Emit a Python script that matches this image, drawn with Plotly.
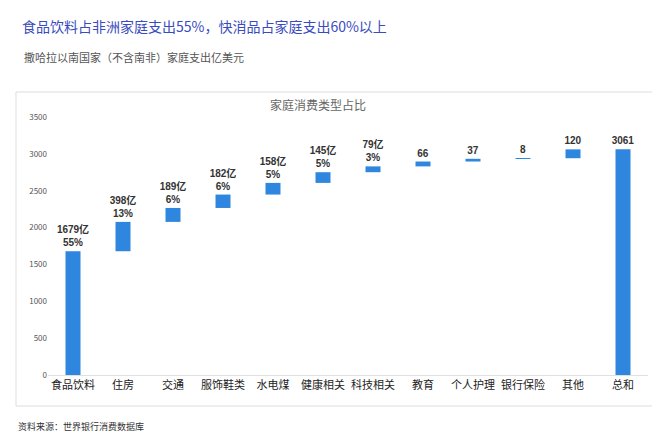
import plotly.graph_objects as go

categories = ["食品饮料", "住房", "交通", "服饰鞋类", "水电煤", "健康相关", "科技相关", "教育", "个人护理", "银行保险", "其他", "总和"]
values = [1679, 398, 189, 182, 158, 145, 79, 66, 37, 8, 120, 3061]
labels = ["1679亿<br>55%", "398亿<br>13%", "189亿<br>6%", "182亿<br>6%", "158亿<br>5%", "145亿<br>5%",
          "79亿<br>3%", "66", "37", "8", "120", "3061"]
measures = ["relative"] * 11 + ["total"]

W, H = 660, 432
L, R, T, B = 40, 20, 109, 65
pw, ph = W - L - R, H - T - B
def px(x): return (x - L) / pw
def py(y): return (H - B - y) / ph

fig = go.Figure(go.Waterfall(
    x=categories, y=values, measure=measures,
    text=labels, textposition="outside", texttemplate="<b>%{text}</b>",
    textfont=dict(size=10, color="#333", family="Liberation Sans, Noto Sans CJK SC"),
    constraintext="none",
    increasing=dict(marker=dict(color="#2f86de")),
    totals=dict(marker=dict(color="#2f86de")),
    connector=dict(visible=False), width=0.3, cliponaxis=False,
))
font = "Noto Sans CJK SC"
fig.update_layout(
    width=W, height=H, margin=dict(l=L, r=R, t=T, b=B),
    paper_bgcolor="white", plot_bgcolor="white", showlegend=False,
    font=dict(family=font),
    uniformtext=dict(mode="show", minsize=10),
    xaxis=dict(tickfont=dict(size=11, color="#222"), tickangle=0, showline=True,
               linecolor="#e0e0e0", ticks=""),
    yaxis=dict(range=[0, 3500], dtick=500, tickfont=dict(size=8, color="#555"),
               showgrid=False, zeroline=False),
    shapes=[dict(type="rect", xref="paper", yref="paper", x0=px(8), x1=px(648),
                 y0=py(84), y1=py(398), line=dict(color="#dddddd", width=1))],
    annotations=[
        dict(text="食品饮料占非洲家庭支出55%，快消品占家庭支出60%以上", xref="paper", yref="paper",
             x=px(12), y=py(18), xanchor="left", yanchor="middle", showarrow=False,
             font=dict(size=14, color="#3a4bbf")),
        dict(text="撒哈拉以南国家（不含南非）家庭支出亿美元", xref="paper", yref="paper",
             x=px(14), y=py(49), xanchor="left", yanchor="middle", showarrow=False,
             font=dict(size=11, color="#555")),
        dict(text="家庭消费类型占比", xref="paper", yref="paper",
             x=px(310), y=py(97), xanchor="center", yanchor="middle", showarrow=False,
             font=dict(size=12, color="#666")),
        dict(text="资料来源：世界银行消费数据库", xref="paper", yref="paper",
             x=px(8), y=py(418), xanchor="left", yanchor="middle", showarrow=False,
             font=dict(size=9, color="#333")),
    ],
)
fig.write_html("out.html")
